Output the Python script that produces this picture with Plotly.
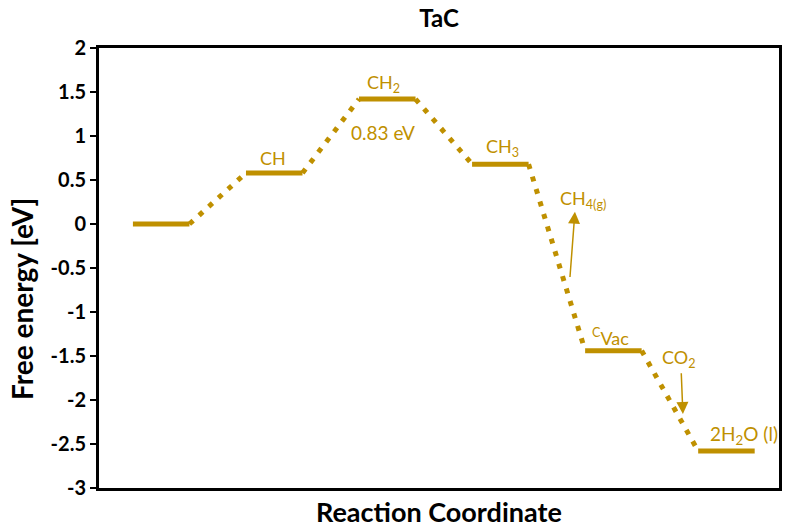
import plotly.graph_objects as go

# Data
states = ["*", "CH", "CH<sub>2</sub>", "CH<sub>3</sub>", "<sup>C</sup>Vac", "2H<sub>2</sub>O (l)"]
energies = [0.0, 0.58, 1.42, 0.68, -1.44, -2.58]
y_ticks = [2, 1.5, 1, 0.5, 0, -0.5, -1, -1.5, -2, -2.5, -3]
barrier_label = "0.83 eV"

GOLD = "#BF9000"
FONT = "Lato"

fig = go.Figure()

# horizontal levels
for i, e in enumerate(energies):
    x0, x1 = 2 * i + 1, 2 * i + 2
    fig.add_trace(go.Scatter(x=[x0, x1], y=[e, e], mode="lines",
                             line=dict(color=GOLD, width=5), hoverinfo="skip",
                             showlegend=False))
# dotted connectors
for i in range(len(energies) - 1):
    fig.add_trace(go.Scatter(x=[2 * i + 2, 2 * i + 3], y=[energies[i], energies[i + 1]],
                             mode="lines", line=dict(color=GOLD, width=5, dash="5px,8px"),
                             hoverinfo="skip", showlegend=False))

def lab(text, x, y, xs=0, ys=0, size=18):
    fig.add_annotation(x=x, y=y, text=text, showarrow=False, xshift=xs, yshift=ys,
                       font=dict(family=FONT, size=size, color=GOLD))

# state labels
lab(states[1], 3.5, energies[1], xs=-1, ys=15)
lab(states[2], 5.5, energies[2], xs=-4, ys=16)
lab(states[3], 7.5, energies[3], xs=2, ys=17)
lab(states[4], 9.5, energies[4], xs=-3, ys=14)
lab(states[5], 11.5, energies[5], xs=18, ys=16, size=19)
lab(barrier_label, 5.5, energies[2], xs=-4, ys=-33, size=19)

# gas-phase labels and arrows
lab("CH<sub>4(g)</sub>", 8.97, 0.28)
lab("CO<sub>2</sub>", 10.66, -1.53)
fig.add_annotation(x=8.82, y=0.14, ax=8.73, ay=-0.62, axref="x", ayref="y",
                   xref="x", yref="y", showarrow=True, arrowhead=2, arrowsize=1.6,
                   arrowwidth=1.5, arrowcolor=GOLD, text="")
fig.add_annotation(x=10.73, y=-2.16, ax=10.70, ay=-1.68, axref="x", ayref="y",
                   xref="x", yref="y", showarrow=True, arrowhead=2, arrowsize=1.6,
                   arrowwidth=1.5, arrowcolor=GOLD, text="")

# axis titles
fig.add_annotation(xref="paper", yref="paper", x=0.5, y=-0.054, yanchor="middle",
                   text="<b>Reaction Coordinate</b>", showarrow=False,
                   font=dict(family=FONT, size=27, color="black"))
fig.add_annotation(xref="paper", yref="paper", x=-0.113, xanchor="center", y=0.43,
                   textangle=-90, text="<b>Free energy [eV]</b>", showarrow=False,
                   font=dict(family=FONT, size=28, color="black"))

fig.update_layout(
    width=787, height=528,
    margin=dict(l=99, r=8, t=48, b=40, autoexpand=False),
    paper_bgcolor="white", plot_bgcolor="white",
    title=dict(text="<b>TaC</b>", xref="paper", x=0.5, xanchor="center",
               yref="container", y=0.965, yanchor="middle",
               font=dict(family=FONT, size=24, color="black")),
    xaxis=dict(range=[0.4, 12.43], showticklabels=False, ticks="", showgrid=False,
               zeroline=False, showline=True, linecolor="black", linewidth=3, mirror=True),
    yaxis=dict(range=[-3, 2], tickvals=y_ticks, ticktext=[f"<b>{v:g}</b>" for v in y_ticks],
               ticks="outside", ticklen=6, tickwidth=2, tickcolor="black",
               showgrid=False, zeroline=False, showline=True, linecolor="black",
               linewidth=3, mirror=True,
               tickfont=dict(family=FONT, size=20, color="black")),
)

fig.write_html("out.html", config={"displayModeBar": False},
               post_script="document.body.style.margin='0';")
